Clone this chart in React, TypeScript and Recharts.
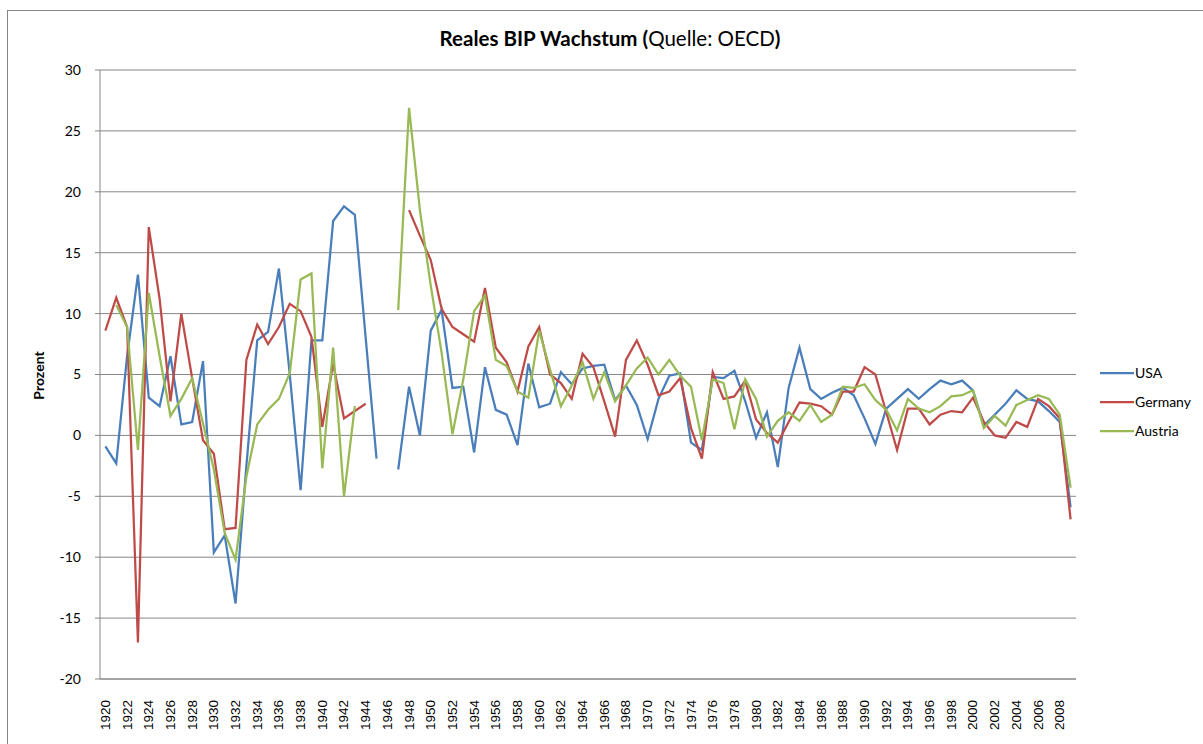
import React from 'react';
import { LineChart, Line, XAxis, YAxis, CartesianGrid } from 'recharts';

const years = [
  1920, 1921, 1922, 1923, 1924, 1925, 1926, 1927, 1928, 1929,
  1930, 1931, 1932, 1933, 1934, 1935, 1936, 1937, 1938, 1939,
  1940, 1941, 1942, 1943, 1944, 1945, 1946, 1947, 1948, 1949,
  1950, 1951, 1952, 1953, 1954, 1955, 1956, 1957, 1958, 1959,
  1960, 1961, 1962, 1963, 1964, 1965, 1966, 1967, 1968, 1969,
  1970, 1971, 1972, 1973, 1974, 1975, 1976, 1977, 1978, 1979,
  1980, 1981, 1982, 1983, 1984, 1985, 1986, 1987, 1988, 1989,
  1990, 1991, 1992, 1993, 1994, 1995, 1996, 1997, 1998, 1999,
  2000, 2001, 2002, 2003, 2004, 2005, 2006, 2007, 2008, 2009,
];

const usa: (number | null)[] = [
  -0.9, -2.3, 6.5, 13.2, 3.1, 2.4, 6.5, 0.9, 1.1, 6.1,
  -9.6, -8.2, -13.8, -2.5, 7.8, 8.5, 13.7, 5.0, -4.5, 7.8,
  7.8, 17.6, 18.8, 18.1, 8.0, -1.9, null, -2.8, 4.0, 0.0,
  8.6, 10.3, 3.9, 4.0, -1.4, 5.6, 2.1, 1.7, -0.8, 5.9,
  2.3, 2.6, 5.2, 4.2, 5.5, 5.7, 5.8, 2.9, 4.1, 2.5,
  -0.3, 3.0, 4.9, 5.1, -0.6, -1.2, 4.8, 4.7, 5.3, 2.8,
  -0.2, 1.9, -2.6, 3.9, 7.2, 3.8, 3.0, 3.5, 3.9, 3.3,
  1.4, -0.7, 2.2, 3.0, 3.8, 3.0, 3.8, 4.5, 4.2, 4.5,
  3.7, 0.8, 1.7, 2.6, 3.7, 3.0, 2.8, 2.0, 1.1, -5.9,
];

const germany: (number | null)[] = [
  8.6, 11.3, 8.9, -17.0, 17.1, 11.2, 2.8, 10.0, 4.7, -0.4,
  -1.5, -7.7, -7.6, 6.2, 9.1, 7.5, 8.9, 10.8, 10.2, 8.1,
  0.7, 5.9, 1.4, 2.0, 2.6, null, null, null, 18.5, 16.4,
  14.4, 10.4, 8.9, 8.3, 7.7, 12.1, 7.2, 6.0, 3.6, 7.3,
  8.9, 5.0, 4.3, 3.0, 6.7, 5.6, 2.8, -0.1, 6.2, 7.8,
  5.8, 3.3, 3.6, 4.7, 0.6, -1.9, 5.2, 3.0, 3.2, 4.5,
  1.3, 0.2, -0.6, 1.1, 2.7, 2.6, 2.4, 1.7, 3.6, 3.6,
  5.6, 5.0, 1.9, -1.2, 2.2, 2.2, 0.9, 1.7, 2.0, 1.9,
  3.1, 1.1, 0.0, -0.2, 1.1, 0.7, 3.0, 2.4, 1.4, -6.9,
];

const austria: (number | null)[] = [
  null, 10.7, 8.9, -1.2, 11.7, 6.5, 1.6, 3.0, 4.7, 1.0,
  -2.8, -8.0, -10.2, -3.4, 0.9, 2.1, 3.0, 5.1, 12.8, 13.3,
  -2.7, 7.2, -5.0, 2.4, null, null, null, 10.3, 26.9, 18.5,
  12.3, 6.8, 0.1, 4.6, 10.2, 11.5, 6.2, 5.7, 3.6, 3.1,
  8.6, 5.4, 2.4, 4.1, 6.0, 3.0, 5.2, 2.8, 4.1, 5.5,
  6.4, 5.0, 6.2, 4.9, 4.0, -0.4, 4.6, 4.3, 0.5, 4.6,
  3.0, -0.1, 1.2, 1.9, 1.2, 2.5, 1.1, 1.7, 4.0, 3.9,
  4.2, 2.9, 2.1, 0.4, 3.0, 2.2, 1.9, 2.4, 3.2, 3.3,
  3.7, 0.6, 1.6, 0.8, 2.5, 2.9, 3.3, 3.0, 1.7, -4.3,
];

const yTicks = [-20, -15, -10, -5, 0, 5, 10, 15, 20, 25, 30];

const seriesNames = ['USA', 'Germany', 'Austria'];
const seriesColors = ['#4a7ebb', '#be4b48', '#98b954'];
const seriesKeys = ['usa', 'germany', 'austria'];

const data = years.map((y, i) => ({
  year: String(y),
  usa: usa[i],
  germany: germany[i],
  austria: austria[i],
}));

const GRID = '#868686';

const XTick = (props: any) => {
  const { x, y, payload } = props;
  return (
    <text
      x={x}
      y={y}
      transform={`rotate(-90, ${x}, ${y})`}
      textAnchor="end"
      dominantBaseline="central"
      fontSize={13.5}
      fontFamily="'Liberation Sans', Arial, sans-serif"
      fill="#000"
    >
      {payload.value}
    </text>
  );
};

const YLabel = (props: any) => {
  const { viewBox } = props;
  const cx = viewBox.x + 38;
  const cy = viewBox.y + viewBox.height / 2 + 1;
  return (
    <text
      x={cx}
      y={cy}
      transform={`rotate(-90, ${cx}, ${cy})`}
      textAnchor="middle"
      dominantBaseline="central"
      fontSize={14}
      fontWeight="bold"
      fontFamily="Lato, sans-serif"
      fill="#000"
    >
      Prozent
    </text>
  );
};

export default function App() {
  return (
    <div style={{ position: 'fixed', left: 0, top: 0, width: 1203, height: 744, background: '#fff', overflow: 'hidden', fontFamily: 'Lato, sans-serif' }}>
      <div
        style={{
          position: 'absolute',
          left: 7,
          top: 10,
          width: 1200,
          height: 740,
          borderLeft: `1px solid ${GRID}`,
          borderTop: `1px solid ${GRID}`,
        }}
      />
      <div
        style={{
          position: 'absolute',
          left: 0,
          top: 23,
          width: 1220,
          textAlign: 'center',
          fontSize: 20.5,
          color: '#000',
          fontFamily: 'Lato, sans-serif',
          lineHeight: '30px',
        }}
      >
        <span style={{ fontWeight: 'bold' }}>Reales BIP Wachstum (</span>
        <span>Quelle: OECD</span>
        <span style={{ fontWeight: 'bold' }}>)</span>
      </div>
      <div style={{ position: 'absolute', left: 0, top: 0 }}>
        <LineChart
          width={1203}
          height={744}
          data={data}
          margin={{ top: 70, right: 127, bottom: 0, left: 0 }}
        >
          <CartesianGrid horizontal={true} vertical={false} stroke={GRID} strokeWidth={1} />
          <XAxis
            dataKey="year"
            type="category"
            interval={1}
            height={65}
            padding={{ left: 5.4, right: 5.4 }}
            tickSize={0}
            tickMargin={21}
            tickLine={false}
            axisLine={{ stroke: GRID, strokeWidth: 1 }}
            tick={<XTick />}
          />
          <YAxis
            type="number"
            domain={[-20, 30]}
            ticks={yTicks}
            interval={0}
            width={100}
            tickSize={5}
            tickMargin={14}
            axisLine={{ stroke: GRID, strokeWidth: 1 }}
            tickLine={{ stroke: GRID }}
            tick={{ fill: '#000', fontSize: 14, fontFamily: 'Lato, sans-serif' }}
            allowDataOverflow={true}
            label={<YLabel />}
          />
          {seriesKeys.map((k, i) => (
            <Line
              key={k}
              type="linear"
              dataKey={k}
              name={seriesNames[i]}
              stroke={seriesColors[i]}
              strokeWidth={2.25}
              dot={false}
              activeDot={false}
              connectNulls={false}
              isAnimationActive={false}
            />
          ))}
        </LineChart>
      </div>
      <div style={{ position: 'absolute', left: 1100, top: 358 }}>
        {seriesNames.map((n, i) => (
          <div key={n} style={{ display: 'flex', alignItems: 'center', height: 29 }}>
            <svg width={34} height={4} style={{ display: 'block' }}>
              <line x1={0} y1={2} x2={34} y2={2} stroke={seriesColors[i]} strokeWidth={2.25} />
            </svg>
            <span style={{ fontSize: 14, color: '#000', marginLeft: 1, fontFamily: 'Lato, sans-serif' }}>{n}</span>
          </div>
        ))}
      </div>
    </div>
  );
}
